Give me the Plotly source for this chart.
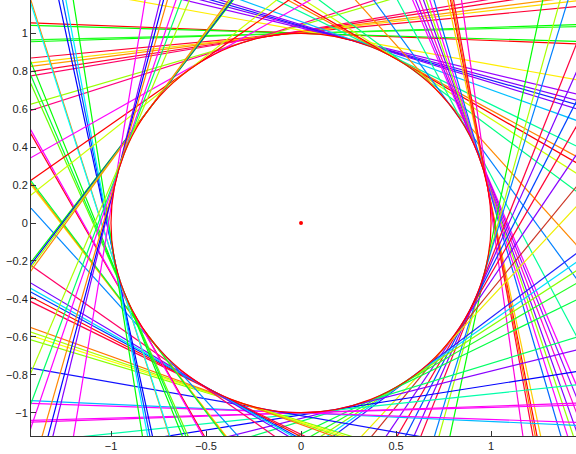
import numpy as np
import plotly.graph_objects as go

# Angle (degrees) of the point where each line touches the unit circle
tangent_deg = [
    87.8, 88.3, 91.8, 91.4, 95.4, 96.5, 97.3, 98.5, 99.5, 106.3, 107.8, 79.8,
    76.5, 75.0, 74.0, 73.0, 70.2,
    64.0, 61.5, 60.0, 57.5, 53.3, 42.0, 36.0, 28.0,
    23.0, 22.0, 20.8, 19.5, 18.6, 17.5, 16.2, 12.0, 11.2, 10.8, 10.3, 8.0,
    348.0, 344.5, 343.0, 338.4, 336.0, 333.0, 330.0, 326.0, 320.7, 317.0,
    307.0, 305.0, 303.0, 300.0, 296.0, 287.0, 284.0, 279.0, 276.0, 271.6, 272.0,
    267.4, 268.0, 260.0, 253.2, 252.2, 251.3, 250.2, 243.8, 242.6, 241.4, 240.5,
    239.2, 234.9, 222.2, 217.8, 217.5, 217.1, 209.8, 209.3, 204.0, 203.2, 202.0,
    197.6, 197.8, 192.1, 191.3, 190.6, 189.0,
    119.5, 125.0, 128.5, 142.4, 142.8, 143.3, 143.9,
    170.7, 166.2, 165.2, 164.0, 161.3, 159.6, 157.0,
]

line_colors = [
    '#FF0000', '#00FF00', '#00FF00', '#22FF22', '#FF0033', '#FFD700', '#FF9900', '#FF0033', '#FF0066', '#99FF00', '#FF0080', '#FFEE00',
    '#9900FF', '#7F00FF', '#1A1AFF', '#8000FF', '#00BFFF',
    '#00FF99', '#FF8000', '#FF0000', '#CCFF00', '#00FF80', '#FF8800', '#0080FF', '#00FF99',
    '#FF00FF', '#9900FF', '#FF00CC', '#8000FF', '#99FF00', '#FF00FF', '#0066FF', '#FFCC00', '#FF0000', '#FF8000', '#FF0033', '#FF00DD',
    '#00FF00', '#AAFF00', '#0080FF', '#FF0040', '#8000FF', '#0044FF', '#FF0033', '#8800FF', '#CC3322', '#EEEE00',
    '#2222FF', '#00DDFF', '#88FF00', '#22FF22', '#00FF40', '#00FF66', '#8800FF', '#0000FF', '#00FFAA', '#FF00FF', '#FF00EE',
    '#00BBFF', '#FF00FF', '#1111FF', '#88FF00', '#FFFF00', '#AAFF00', '#FF7700', '#FF0044', '#FF0000', '#0033FF', '#00DDFF',
    '#7700FF', '#FF0066', '#0088FF', '#FFEE00', '#FF8800', '#00FF33', '#FF0022', '#FF00FF', '#66FF00', '#00FF33', '#00FF00',
    '#FF8800', '#00FFFF', '#0000FF', '#0044FF', '#00EEFF', '#00FF00',
    '#FF00FF', '#FF0000', '#CCFF00', '#00FF00', '#0000FF', '#99FF00', '#FF8800',
    '#FF00FF', '#8800FF', '#0000FF', '#FF8800', '#FF00FF', '#00FF66', '#AAFF00',
]

x_ticks = [-1, -0.5, 0, 0.5, 1]
x_tick_text = ['\u22121', '\u22120.5', '0', '0.5', '1']
y_ticks = [-1, -0.8, -0.6, -0.4, -0.2, 0, 0.2, 0.4, 0.6, 0.8, 1]
y_tick_text = ['\u22121', '\u22120.8', '\u22120.6', '\u22120.4', '\u22120.2',
               '0', '0.2', '0.4', '0.6', '0.8', '1']

fig = go.Figure()

# Each tangent line: through (cos t, sin t), running along (-sin t, cos t)
reach = np.array([-4.0, 4.0])
for deg, col in zip(tangent_deg, line_colors):
    t = np.deg2rad(deg)
    cx, cy = np.cos(t), np.sin(t)
    fig.add_trace(go.Scatter(
        x=cx - reach * np.sin(t), y=cy + reach * np.cos(t),
        mode='lines', line=dict(color=col, width=1.2),
        hoverinfo='skip', showlegend=False))

# Centre point
fig.add_trace(go.Scatter(x=[0], y=[0], mode='markers',
                         marker=dict(color='#FF0000', size=4),
                         hoverinfo='skip', showlegend=False))

# Unit circle
fig.add_shape(type='circle', xref='x', yref='y', x0=-1, y0=-1, x1=1, y1=1,
              line=dict(color='#FF0000', width=1.2), layer='above')

axis_style = dict(showline=True, linecolor='#333333', linewidth=1,
                  ticks='inside', ticklen=5, tickcolor='#333333',
                  showgrid=False, zeroline=False, mirror=False)

fig.update_layout(
    width=576, height=454,
    margin=dict(l=31, r=0, t=0, b=18),
    paper_bgcolor='white', plot_bgcolor='white',
    font=dict(family='Liberation Sans, Arial, sans-serif', size=11, color='#222222'),
    xaxis=dict(range=[-1.421, 1.447], tickvals=x_ticks, ticktext=x_tick_text, **axis_style),
    yaxis=dict(range=[-1.123, 1.176], tickvals=y_ticks, ticktext=y_tick_text, **axis_style),
)

fig.write_html('out.html')
